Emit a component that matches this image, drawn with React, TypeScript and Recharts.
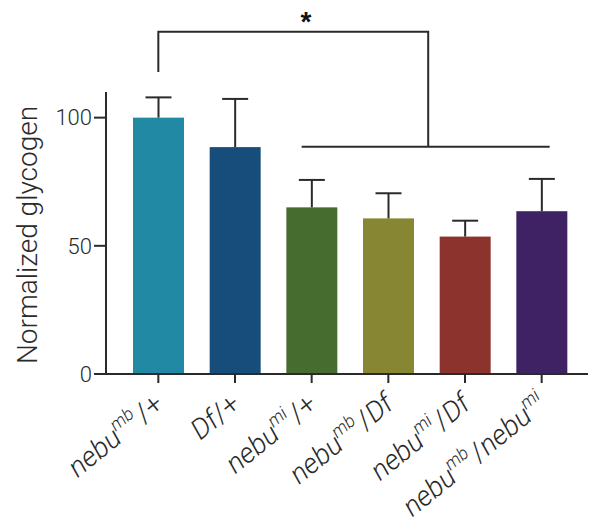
import React from 'react';
import { BarChart, Bar, XAxis, YAxis } from 'recharts';

const categories = ['nebu^mb/+', 'Df/+', 'nebu^mi/+', 'nebu^mb/Df', 'nebu^mi/Df', 'nebu^mb/nebu^mi'];
const means = [100, 88.5, 65.0, 60.7, 53.6, 63.5];
const sem = [7.9, 18.8, 10.7, 9.8, 6.2, 12.6];
const colors = ['#2289a5', '#174d7b', '#466c30', '#878632', '#8c332d', '#3e2263'];
const yTicks = [0, 50, 100];

const data = categories.map((name, i) => ({ name, value: means[i], err: sem[i], color: colors[i] }));

// layout
const W = 590;
const H = 525;
const plotLeft = 106;
const plotRight = 588;
const plotTop = 92;
const plotBottom = 374;
const yMax = 110;
const padL = 14;
const padR = 8;
const band = (plotRight - plotLeft - padL - padR) / categories.length;
const xCenter = (i: number) => plotLeft + padL + band * (i + 0.5);
const yPx = (v: number) => plotBottom - (v / yMax) * (plotBottom - plotTop);

const FONT = "Roboto, 'Liberation Sans', Arial, sans-serif";
const INK = '#2a2a2a';

const BarWithError = (props: any) => {
  const { x, y, width, height, payload } = props;
  const perUnit = height / payload.value;
  const top = y - payload.err * perUnit;
  const cx = x + width / 2;
  return (
    <g>
      <rect x={x} y={y} width={width} height={height} fill={payload.color} />
      <line x1={cx} x2={cx} y1={y} y2={top} stroke={INK} strokeWidth={2} />
      <line x1={cx - 13} x2={cx + 13} y1={top} y2={top} stroke={INK} strokeWidth={2} />
    </g>
  );
};

const GenoTick = (props: any) => {
  const { x, y, payload } = props;
  const parts = String(payload.value).split('/');
  const kids: React.ReactNode[] = [];
  parts.forEach((p, i) => {
    const [base, sup] = p.split('^');
    if (i > 0) {
      kids.push(
        <tspan key={'s' + i} dx={parts[i - 1].includes('^') ? 2 : 0}>/</tspan>
      );
    }
    kids.push(
      <tspan key={'b' + i} fontStyle={base === '+' ? 'normal' : 'italic'}>{base}</tspan>
    );
    if (sup) {
      kids.push(
        <tspan key={'u' + i} fontStyle="italic" fontSize={18} dy={-12}>{sup}</tspan>
      );
      kids.push(<tspan key={'r' + i} dy={12}>{'\u200b'}</tspan>);
    }
  });
  return (
    <g transform={`translate(${x + 7},${y + 22}) rotate(-39)`}>
      <text textAnchor="end" fontSize={28} fontWeight={300} fontFamily={FONT} fill={INK}>
        {kids}
      </text>
    </g>
  );
};

export default function App() {
  const bx0 = xCenter(0);
  const bx1 = xCenter(3.52);
  const lowL = xCenter(2) - 10;
  const lowR = xCenter(5) + 8;
  return (
    <div style={{ position: 'absolute', left: 0, top: 0, width: W, height: H, background: '#fff' }}>
      <BarChart
        width={W}
        height={H}
        data={data}
        margin={{ top: plotTop, right: W - plotRight, left: 0, bottom: 0 }}
        barSize={51}
      >
        <XAxis
          dataKey="name"
          height={H - plotBottom}
          padding={{ left: padL, right: padR }}
          interval={0}
          tickSize={9}
          axisLine={{ stroke: INK, strokeWidth: 2 }}
          tickLine={{ stroke: INK, strokeWidth: 2 }}
          tick={<GenoTick />}
        />
        <YAxis
          domain={[0, yMax]}
          ticks={yTicks}
          width={plotLeft}
          tickSize={12}
          tickMargin={2}
          axisLine={{ stroke: INK, strokeWidth: 2 }}
          tickLine={{ stroke: INK, strokeWidth: 2 }}
          tick={{ fontSize: 22, fill: INK, fontFamily: FONT, fontWeight: 300 }}
        />
        <Bar dataKey="value" shape={<BarWithError />} isAnimationActive={false} />
      </BarChart>
      <svg width={W} height={H} style={{ position: 'absolute', left: 0, top: 0, pointerEvents: 'none' }}>
        <text
          transform={`translate(37,${(plotTop + plotBottom) / 2 + 2}) rotate(-90)`}
          textAnchor="middle"
          fontSize={28}
          fontWeight={300}
          fontFamily={FONT}
          fill={INK}
        >
          Normalized glycogen
        </text>
        <polyline
          points={`${bx0},${yPx(117.8)} ${bx0},${yPx(133.5)} ${bx1},${yPx(133.5)} ${bx1},${yPx(88.6)}`}
          fill="none"
          stroke={INK}
          strokeWidth={2}
        />
        <line x1={lowL} x2={lowR} y1={yPx(88.6)} y2={yPx(88.6)} stroke={INK} strokeWidth={2} />
        <text x={306} y={31} textAnchor="middle" fontSize={28} fontWeight="bold" fontFamily="'Liberation Sans', Arial, sans-serif" fill="#111">
          *
        </text>
      </svg>
    </div>
  );
}
